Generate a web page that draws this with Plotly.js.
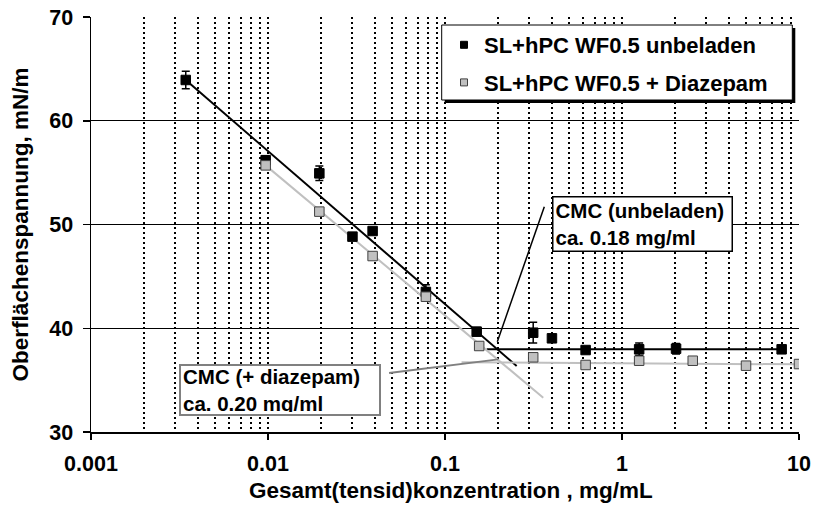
<!DOCTYPE html>
<html>
<head>
<meta charset="utf-8">
<script src="https://cdn.plot.ly/plotly-3.0.1.min.js"></script>
<style>html,body{margin:0;padding:0;background:#fff;}#chart{width:814px;height:508px;}</style>
</head>
<body>
<div id="chart"></div>
<script>
// ---- data ----
const seriesNames = ['SL+hPC WF0.5 unbeladen', 'SL+hPC WF0.5 + Diazepam'];

const unbeladenX = [0.00343, 0.0097, 0.0195, 0.030, 0.039, 0.078, 0.151, 0.315, 0.402, 0.623, 1.25, 2.02, 7.98];
const unbeladenY = [63.93, 56.2, 54.93, 48.83, 49.37, 43.5, 39.67, 39.57, 39.03, 37.9, 37.97, 38.03, 37.97];
const unbeladenErr = [0.85, 0.4, 0.7, 0.2, 0.2, 0.7, 0.4, 1.0, 0.2, 0.2, 0.6, 0.5, 0.2];

const diazepamX = [0.0097, 0.0195, 0.039, 0.078, 0.156, 0.315, 0.623, 1.25, 2.51, 5.02, 10.0];
const diazepamY = [55.7, 51.24, 46.96, 43.04, 38.29, 37.2, 36.46, 36.87, 36.87, 36.39, 36.55];

// trend lines (fits)
const fitUnbeladenX = [0.00343, 0.254];
const fitUnbeladenY = [63.93, 36.36];
const plateauUnbeladenX = [0.172, 7.98];
const plateauUnbeladenY = [37.97, 37.97];
const fitDiazepamX = [0.0097, 0.359];
const fitDiazepamY = [55.7, 33.31];
const plateauDiazepamX = [0.124, 10];
const plateauDiazepamY = [36.72, 36.52];

// callout texts and leader lines
const cmcLabels = ['CMC (unbeladen)<br>ca. 0.18 mg/ml', 'CMC (+ diazepam)<br>ca. 0.20 mg/ml'];
const cmcUnbeladenLineX = [0.364, 0.1975];
const cmcUnbeladenLineY = [51.72, 38.7];
const cmcDiazepamLineX = [0.0483, 0.200];
const cmcDiazepamLineY = [35.69, 37.0];

const xTickVals = [0.001, 0.01, 0.1, 1, 10];
const xTickText = ['0.001', '0.01', '0.1', '1', '10'];
const yTickVals = [30, 40, 50, 60, 70];

const xTitle = 'Gesamt(tensid)konzentration , mg/mL';
const yTitle = 'Oberflächenspannung, mN/m';

// ---- styling ----
const FONT = 'Liberation Sans, Arial, sans-serif';
const minorVals = [];
for (let d = -3; d < 1; d++) for (let m = 2; m <= 9; m++) minorVals.push(m * Math.pow(10, d));
const DOT = '2px,3px';

const traces = [
  {x: fitUnbeladenX, y: fitUnbeladenY, mode: 'lines', line: {color: '#000', width: 2}, showlegend: false, hoverinfo: 'skip'},
  {x: plateauUnbeladenX, y: plateauUnbeladenY, mode: 'lines', line: {color: '#000', width: 2}, showlegend: false, hoverinfo: 'skip'},
  {x: fitDiazepamX, y: fitDiazepamY, mode: 'lines', line: {color: '#c0c0c0', width: 2}, showlegend: false, hoverinfo: 'skip'},
  {x: plateauDiazepamX, y: plateauDiazepamY, mode: 'lines', line: {color: '#c0c0c0', width: 2}, showlegend: false, hoverinfo: 'skip'},
  {x: cmcUnbeladenLineX, y: cmcUnbeladenLineY, mode: 'lines', line: {color: '#000', width: 1.5}, showlegend: false, hoverinfo: 'skip'},
  {x: cmcDiazepamLineX, y: cmcDiazepamLineY, mode: 'lines', line: {color: '#808080', width: 2}, showlegend: false, hoverinfo: 'skip'},
  {x: unbeladenX, y: unbeladenY, mode: 'markers', name: seriesNames[0], showlegend: false,
   marker: {symbol: 'square', size: 9.5, color: '#000', line: {color: '#000', width: 1}},
   error_y: {type: 'data', array: unbeladenErr, visible: true, color: '#000', thickness: 1.5, width: 4}},
  {x: diazepamX, y: diazepamY, mode: 'markers', name: seriesNames[1], showlegend: false,
   marker: {symbol: 'square', size: 9.5, color: '#c0c0c0', line: {color: '#404040', width: 1}}},
  // legend entries
  {x: [null], y: [null], mode: 'markers', name: seriesNames[0], legendgroup: 'a',
   marker: {symbol: 'square', size: 7, color: '#000', line: {color: '#000', width: 1}}},
  {x: [null], y: [null], mode: 'markers', name: seriesNames[1], legendgroup: 'b',
   marker: {symbol: 'square', size: 7, color: '#c0c0c0', line: {color: '#404040', width: 1}}}
];

const W = 708, H = 415;
const layout = {
  width: 814, height: 508,
  margin: {l: 91, r: 15, t: 17, b: 76, pad: 0},
  paper_bgcolor: '#fff', plot_bgcolor: '#fff',
  font: {family: FONT, size: 21, color: '#000', weight: 'bold'},
  showlegend: true,
  legend: {x: (444 - 91) / W, y: (432 - 24) / H, xanchor: 'left', yanchor: 'top',
           bgcolor: 'rgba(0,0,0,0)', borderwidth: 0, tracegroupgap: 6, traceorder: 'grouped',
           font: {family: FONT, size: 22, color: '#000', weight: 'bold'}},
  xaxis: {
    type: 'log', range: [-3, 1], tickmode: 'array', tickvals: xTickVals, ticktext: xTickText,
    ticks: 'outside', ticklen: 6, tickwidth: 1.5, tickcolor: '#000',
    showline: true, linecolor: '#000', linewidth: 1.5, zeroline: false,
    showgrid: true, gridcolor: '#000', gridwidth: 2, griddash: DOT,
    minor: {tickmode: 'array', tickvals: minorVals, showgrid: true, gridcolor: '#000', gridwidth: 2, griddash: DOT, ticks: ''},
    tickfont: {family: FONT, size: 21.5, color: '#000', weight: 'bold'},
    ticklabelstandoff: 6
  },
  yaxis: {
    range: [30, 70], tickmode: 'array', tickvals: yTickVals,
    ticks: 'outside', ticklen: 7, tickwidth: 1.5, tickcolor: '#000',
    showline: true, linecolor: '#000', linewidth: 1.5, zeroline: false,
    showgrid: true, gridcolor: '#000', gridwidth: 1,
    tickfont: {family: FONT, size: 21.5, color: '#000', weight: 'bold'},
    ticklabelstandoff: 5,
    title: {text: yTitle, font: {family: FONT, size: 22.5, color: '#000', weight: 'bold'}, standoff: 14}
  },
  shapes: [
    // legend shadow + box
    {type: 'rect', xref: 'paper', yref: 'paper', layer: 'above',
     x0: (444.7 - 91) / W, x1: (795.3 - 91) / W, y0: (432 - 103) / H, y1: (432 - 28) / H,
     fillcolor: '#000', line: {width: 0}},
    {type: 'rect', xref: 'paper', yref: 'paper', layer: 'above',
     x0: (441.7 - 91) / W, x1: (792.3 - 91) / W, y0: (432 - 100) / H, y1: (432 - 25) / H,
     fillcolor: '#fff', line: {color: '#000', width: 1}}
  ],
  annotations: [
    {xref: 'paper', yref: 'paper', x: (551.5 - 91) / W, y: (432 - 195.7) / H, xanchor: 'left', yanchor: 'top',
     text: cmcLabels[0], showarrow: false, align: 'left', width: 174, height: 49, borderpad: 2, borderwidth: 1.5,
     bordercolor: '#000', bgcolor: '#fff', font: {family: FONT, size: 20.5, color: '#000', weight: 'bold'}},
    {xref: 'paper', yref: 'paper', x: (179 - 91) / W, y: (432 - 364.3) / H, xanchor: 'left', yanchor: 'top',
     text: cmcLabels[1], showarrow: false, align: 'left', width: 194, height: 44, borderpad: 2, borderwidth: 2,
     bordercolor: '#808080', bgcolor: '#fff', font: {family: FONT, size: 20.5, color: '#000', weight: 'bold'}},
    // x axis title
    {xref: 'paper', yref: 'paper', x: (451 - 91) / W, y: (432 - 490) / H, xanchor: 'center', yanchor: 'middle',
     text: xTitle, showarrow: false, font: {family: FONT, size: 22.5, color: '#000', weight: 'bold'}}
  ]
};

Plotly.newPlot('chart', traces, layout, {staticPlot: true, displayModeBar: false});
</script>
</body>
</html>
